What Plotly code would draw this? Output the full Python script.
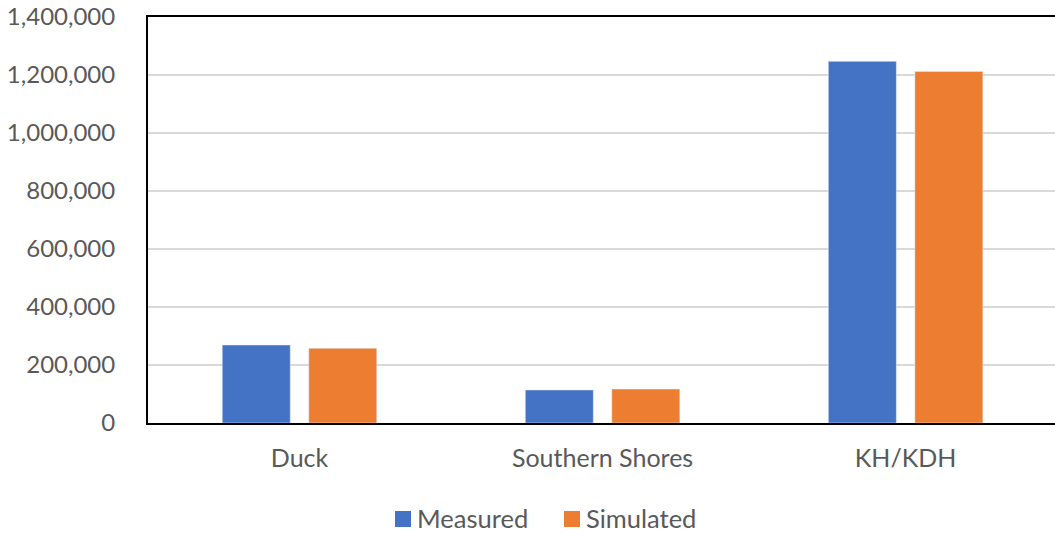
import plotly.graph_objects as go

# Annual volumes by area
areas = ["Duck", "Southern Shores", "KH/KDH"]
measured = [269000, 114000, 1247000]
simulated = [257500, 117000, 1212500]

series_names = ["Measured", "Simulated"]
BLUE = "#4472C4"
ORANGE = "#ED7D31"
TEXT = "#595959"
FONT = "Lato"

W, H = 1055, 533
L, R, T, B = 148, 0, 17, 110
PW, PH = W - L - R, H - T - B


def px_x(x):
    return (x - L) / PW


def px_y(y):
    return (H - B - y) / PH


fig = go.Figure()
fig.add_trace(go.Bar(x=areas, y=measured, name=series_names[0], marker_color=BLUE))
fig.add_trace(go.Bar(x=areas, y=simulated, name=series_names[1], marker_color=ORANGE))

# legend drawn below the plot: swatch + label per series
legend_items = [(series_names[0], BLUE, 395), (series_names[1], ORANGE, 564)]
for name, color, x0 in legend_items:
    fig.add_shape(type="rect", xref="paper", yref="paper",
                  x0=px_x(x0), x1=px_x(x0 + 16), y0=px_y(527), y1=px_y(511),
                  fillcolor=color, line_width=0)
    fig.add_annotation(text=name, xref="paper", yref="paper",
                       x=px_x(x0 + 21), y=px_y(518), xanchor="left",
                       yanchor="middle", showarrow=False, height=26,
                       borderpad=0, valign="middle",
                       font=dict(family=FONT, size=25.5, color=TEXT))

fig.update_layout(
    width=W, height=H,
    margin=dict(l=L, r=R, t=T, b=B, autoexpand=False),
    paper_bgcolor="white", plot_bgcolor="white",
    barmode="group", bargap=0.429, bargroupgap=0.214,
    showlegend=False,
    font=dict(family=FONT, size=25, color=TEXT),
    xaxis=dict(range=[-0.5, 2.493], showline=True, linecolor="black",
               linewidth=2, mirror=True, ticks="", showgrid=False,
               automargin=False, ticklabelstandoff=12,
               tickfont=dict(size=25, color=TEXT)),
    yaxis=dict(range=[0, 1400000], dtick=200000, tickformat=",",
               showline=True, linecolor="black", linewidth=2, mirror=False,
               gridcolor="#D9D9D9", gridwidth=1.5, zeroline=False,
               automargin=False, ticks="", ticklabelstandoff=26,
               tickfont=dict(size=24, color=TEXT)),
)

fig.write_html("out.html")
